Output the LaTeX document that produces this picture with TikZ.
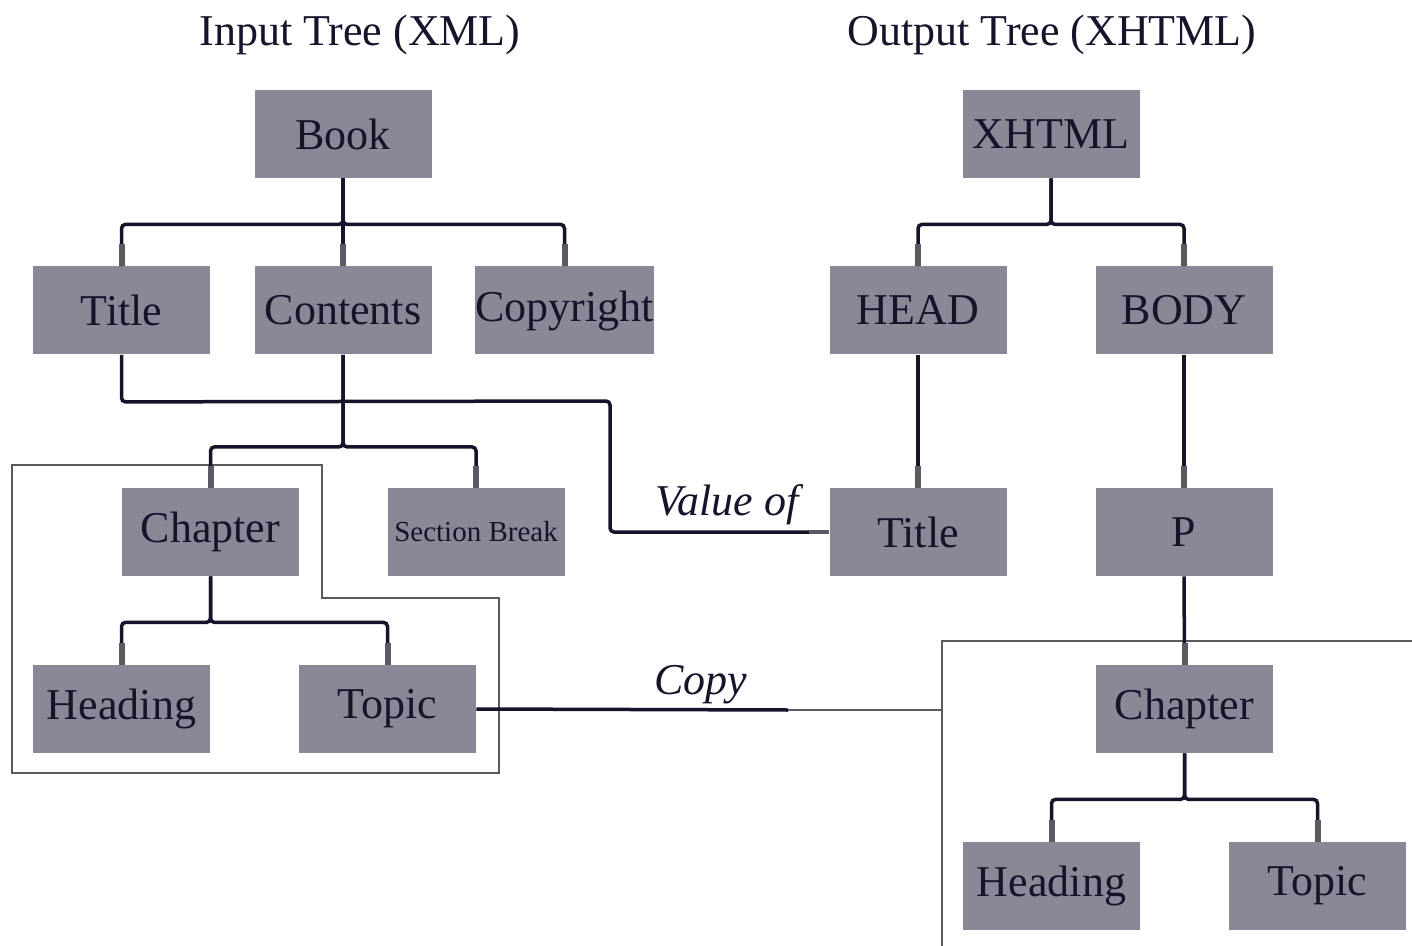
\documentclass[tikz,border=0pt]{standalone}
\usepackage{fontspec}
\setmainfont{Liberation Serif}
\definecolor{boxfill}{HTML}{8A8797}
\definecolor{ink}{HTML}{15142B}
\definecolor{stubc}{HTML}{5B5A62}
\definecolor{framec}{HTML}{5A5A5A}
\tikzset{
  tnode/.style={fill=boxfill, minimum width=88.5pt, minimum height=44pt, inner sep=0pt, text=ink, font=\fontsize{22}{26}\selectfont},
  conn/.style={draw=ink, line width=1.75pt, rounded corners=2pt},
  stubline/.style={draw=stubc, line width=3pt},
  greyline/.style={draw=stubc, line width=1.1pt},
  frame/.style={draw=framec, line width=0.8pt},
  lbl/.style={text=ink, font=\fontsize{22}{26}\selectfont\itshape, anchor=base, inner sep=0pt},
  heading/.style={text=ink, font=\fontsize{22}{26}\selectfont, anchor=base, inner sep=0pt},
}
\begin{document}
\begin{tikzpicture}[x=0.5pt, y=-0.5pt]
\useasboundingbox (0,0) rectangle (1412,946);

% frames
\draw[frame] (12,465) -- (322,465) -- (322,598) -- (499,598) -- (499,773) -- (12,773) -- cycle;
\draw[frame] (1412,641) -- (942,641) -- (942,946);

% headings
\node[heading] (hin) at (360,46) {Input Tree (XML)};
\node[heading] (hout) at (1052,46) {Output Tree (XHTML)};

% input tree
\node[tnode] (book) at (343,134) {Book};
\node[tnode] (title) at (121.5,310.5) {Title};
\node[tnode] (contents) at (343,310.5) {Contents};
\node[tnode] (copyright) at (564.5,310.5) {Copyright};
\node[tnode] (chapter) at (210.5,532) {Chapter};
\node[tnode, font=\fontsize{14.5}{17}\selectfont] (sbreak) at (476,532) {Section Break};
\node[tnode] (heading) at (121.5,709) {Heading};
\node[tnode] (topic) at (387.5,709) {Topic};

% output tree
\node[tnode] (xhtml) at (1051,134) {XHTML};
\node[tnode] (head) at (918,310.5) {HEAD};
\node[tnode] (body) at (1184,310.5) {BODY};
\node[tnode] (otitle) at (918,532) {Title};
\node[tnode] (p) at (1184,532) {P};
\node[tnode] (ochapter) at (1184.5,709) {Chapter};
\node[tnode] (oheading) at (1051.5,886) {Heading};
\node[tnode] (otopic) at (1317.5,886) {Topic};

% input connectors
\draw[conn] (book.south) -- ++(0,46) -| (title.north);
\draw[conn] (book.south) -- ++(0,46) -| (copyright.north);
\draw[conn] (book.south) -- (contents.north);
\draw[conn] (contents.south) -- ++(0,92) -| (chapter.north);
\draw[conn] (contents.south) -- ++(0,92) -| (sbreak.north);
\draw[conn] (chapter.south) -- ++(0,46) -| (heading.north);
\draw[conn] (chapter.south) -- ++(0,46) -| (topic.north);
\foreach \n in {title,contents,copyright,chapter,sbreak,heading,topic}
  \draw[stubline] (\n.north) -- ++(0,-22);

% output connectors
\draw[conn] (xhtml.south) -- ++(0,46) -| (head.north);
\draw[conn] (xhtml.south) -- ++(0,46) -| (body.north);
\draw[conn] (head.south) -- (otitle.north);
\draw[conn] (body.south) -- (p.north);
\draw[conn] (p.south) -- (ochapter.north);
\draw[conn] (ochapter.south) -- ++(0,46) -| (oheading.north);
\draw[conn] (ochapter.south) -- ++(0,46) -| (otopic.north);
\foreach \n in {head,body,otitle,p,ochapter,oheading,otopic}
  \draw[stubline] (\n.north) -- ++(0,-22);

% value of
\coordinate (vend) at ([xshift=-10pt]otitle.west);
\draw[conn] (title.south) -- ++(0,47) -- (610,401) |- (vend);
\draw[greyline, line width=1.75pt] (vend) -- (otitle.west);
\node[lbl] (vlbl) at (727,515) {Value of};

% copy
\coordinate (cmid) at (788,710);
\coordinate (rbox) at (942,710);
\draw[conn] (topic.east) -- (cmid);
\draw[greyline] (cmid) -- (rbox);
\node[lbl] (clbl) at (701,694) {Copy};
\end{tikzpicture}
\end{document}
